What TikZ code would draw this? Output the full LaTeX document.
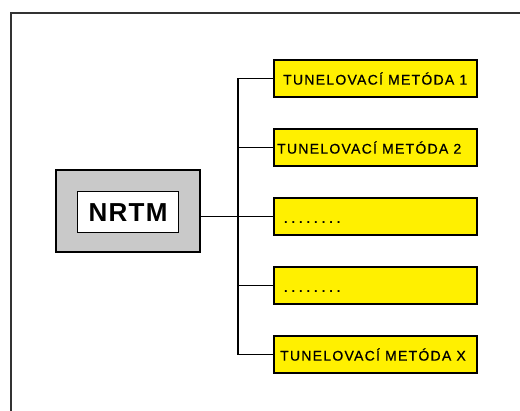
\documentclass[tikz,border=0pt]{standalone}
\usepackage{fontspec}
\setmainfont{Liberation Sans}
\definecolor{ybox}{HTML}{FFF000}
\definecolor{gbox}{HTML}{C9C9C9}
\begin{document}
\begin{tikzpicture}[x=1pt,y=-1pt,
  method/.style={draw=black,line width=2.2pt,fill=ybox,minimum width=203pt,minimum height=37pt,inner sep=0pt,anchor=north west},
  mtext/.style={font=\fontsize{14}{14}\selectfont\addfontfeatures{LetterSpace=9,FakeBold=0.6},anchor=west,inner sep=0pt},
  dots/.style={font=\fontsize{13}{13}\selectfont\bfseries\addfontfeatures{LetterSpace=30},anchor=west,inner sep=0pt},
  conn/.style={line width=1.1pt,black}]
\useasboundingbox (0,0) rectangle (520,411);
% frame
\draw[line width=1.4pt,black!80] (11,411) -- (11,13) -- (520,13);
% NRTM
\node[draw=black,line width=2.2pt,fill=gbox,minimum width=144pt,minimum height=82pt,anchor=north west] (outer) at (55,169) {};
\node[draw=black,line width=1.2pt,fill=white,minimum width=101pt,minimum height=41pt,anchor=north west,font=\fontsize{26}{26}\selectfont\bfseries\addfontfeatures{LetterSpace=5}] (nrtm) at (77,191) {NRTM};
% method boxes
\node[method] (m1) at (273,59) {};
\node[method] (m2) at (273,128) {};
\node[method] (m3) at (273,197) {};
\node[method] (m4) at (273,266) {};
\node[method] (m5) at (273,335) {};
\node[mtext] (t1) at ([xshift=10pt]m1.west) {TUNELOVACÍ METÓDA 1};
\node[mtext] (t2) at ([xshift=4pt]m2.west) {TUNELOVACÍ METÓDA 2};
\node[mtext] (t5) at ([xshift=7pt]m5.west) {TUNELOVACÍ METÓDA X};
\node[dots] (d3) at ([xshift=11pt,yshift=-6pt]m3.west) {........};
\node[dots] (d4) at ([xshift=11pt,yshift=-6pt]m4.west) {........};
% connectors
\coordinate (trunkTop) at (238,0 |- m1.west);
\coordinate (trunkBot) at (238,0 |- m5.west);
\draw[conn] (m1.west) -- (trunkTop) -- (trunkBot) -- (m5.west);
\draw[conn] (m2.west) -- (trunkTop |- m2.west);
\draw[conn] (m4.west) -- (trunkTop |- m4.west);
\draw[conn] (outer.east |- m3.west) -- (m3.west);
\end{tikzpicture}
\end{document}
